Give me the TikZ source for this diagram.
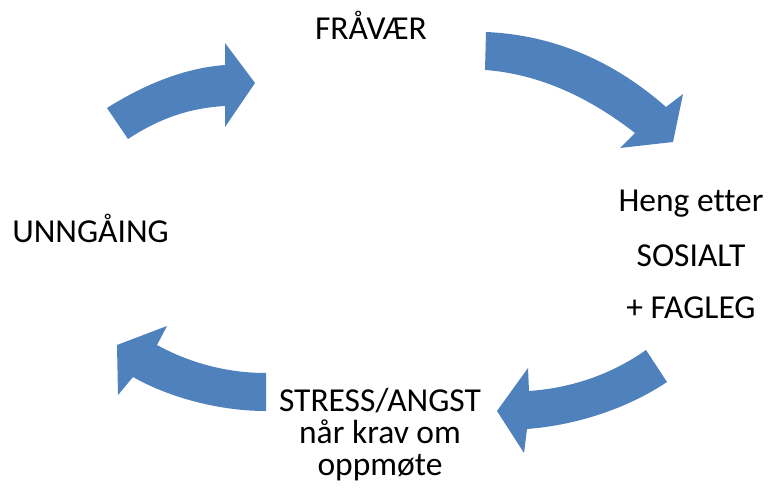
\documentclass[tikz,border=0pt]{standalone}
\usepackage{fontspec}
\setmainfont[Ligatures=NoCommon]{Carlito}
\definecolor{arrowblue}{HTML}{4F81BD}
\begin{document}
\begin{tikzpicture}[x=1pt,y=-1pt,
  lbl/.style={inner sep=0pt,anchor=base,font=\fontsize{33.5}{38}\selectfont},
  blockarrow/.style={fill=arrowblue,draw=none}]
\useasboundingbox (0,0) rectangle (770,494);
% block arrows
\fill[blockarrow] (107,108) .. controls (145,84) and (185,68) .. (225,65)
  -- (225,43) -- (255,83) -- (225,127) -- (225,106)
  .. controls (190,108) and (160,118) .. (128,139) -- cycle;
\fill[blockarrow] (486,32) .. controls (555,35) and (615,62) .. (666,107)
  -- (683,94) -- (673,142) -- (620,148) -- (635,133)
  .. controls (590,98) and (540,74) .. (485,70) -- cycle;
\fill[blockarrow] (646,350) .. controls (612,374) and (572,388) .. (529,391)
  -- (528,368) -- (497,411) -- (524,453) -- (527,429)
  .. controls (578,425) and (628,408) .. (667,382) -- cycle;
\fill[blockarrow] (266,373) .. controls (225,373) and (188,362) .. (157,345)
  -- (167,326) -- (117,345) -- (118,395) -- (133,377)
  .. controls (170,398) and (220,411) .. (266,411) -- cycle;
% labels
\node[lbl] (fravaer) at (371,40) {FRÅVÆR};
\node[lbl] (unngaaing) at (90.5,242) {UNNGÅING};
\node[lbl] (heng) at (691,212) {Heng etter};
\node[lbl] (sosialt) at (691,266) {SOSIALT};
\node[lbl] (fagleg) at (691,318) {+ FAGLEG};
\node[lbl] (stress) at (380,411) {STRESS/ANGST};
\node[lbl] (krav) at (380,443) {når krav om};
\node[lbl] (oppmote) at (380,475) {oppmøte};
\end{tikzpicture}
\end{document}
